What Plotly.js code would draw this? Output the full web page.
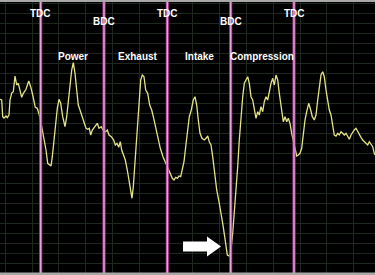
<!DOCTYPE html>
<html><head><meta charset="utf-8">
<script src="https://cdn.plot.ly/plotly-3.0.1.min.js"></script>
<style>html,body{margin:0;padding:0;background:#000;}#c{width:375px;height:275px;}</style>
</head><body><div id="c"></div>
<script>
// time (ms) and signal values
const timeMs = [0.0,0.17,0.27,0.40,0.60,0.73,0.90,1.00,1.17,1.33,1.50,1.67,1.83,2.00,2.17,2.33,2.60,2.87,3.07,3.27,3.40,3.53,3.73,3.93,4.17,4.40,4.60,4.77,4.93,5.10,5.23,5.40,5.60,5.73,5.90,6.07,6.27,6.50,6.67,6.83,7.00,7.17,7.33,7.50,7.67,7.83,8.00,8.23,8.40,8.60,8.77,8.93,9.07,9.23,9.43,
9.57,9.73,9.90,10.13,10.30,10.57,10.73,10.90,11.13,11.37,11.53,11.70,11.87,12.03,12.17,12.37,12.53,12.73,12.90,13.03,13.20,13.33,13.50,13.70,13.90,14.07,14.23,14.40,14.57,14.77,14.97,15.17,15.37,15.57,15.80,16.03,16.30,16.57,16.80,17.03,17.23,17.40,17.57,17.73,17.90,18.07,18.23,18.40,18.57,
18.77,18.93,19.13,19.33,19.50,19.67,19.83,20.00,20.20,20.43,20.60,20.77,20.93,21.10,21.27,21.47,21.67,21.87,22.07,22.27,22.47,22.60,22.73,22.93,23.10,23.27,23.47,23.60,23.77,23.93,24.10,24.27,24.43,24.60,24.77,24.93,25.10,25.27,25.43,25.60,25.77,25.93,26.10,26.27,26.43,26.60,26.77,26.93,27.10,27.27,27.43,27.60,27.77,27.93,
28.17,28.33,28.50,28.67,28.83,29.00,29.17,29.33,29.50,29.67,29.83,30.00,30.17,30.33,30.50,30.67,30.87,31.07,31.23,31.43,31.60,31.77,31.93,32.10,32.27,32.43,32.60,32.77,32.93,33.10,33.27,33.43,33.60,33.77,33.93,34.10,34.27,34.43,34.60,34.77,34.93,35.10,35.27,35.43,35.60,35.77,35.93,36.10,36.27,36.43,36.60,36.77,36.93,37.10,37.27,37.43,37.50];
const signal = [175.7,175,158.3,157,159,157.3,160,175,182,183.3,199,190,191.7,185,177.7,181.7,185.7,194,188.3,180,175,167.7,166.7,160,148.3,137,125,111.7,110,109,118.3,135,155,166.7,175.7,171.7,158.3,148.3,158.3,175,191.7,205,212.3,201.7,185,170,165,158.3,151.7,146.7,145.7,146.7,140,145,147.7,
150,151.7,146.7,148.3,145,143.3,145,140,138.3,135,130,131.7,127.7,133.3,125,118.3,115,105,93.3,88.3,76.7,88.3,115,145,175,195,200,198.3,185,181.7,170,165,156.7,146.7,135,126.7,118.3,111.7,105.7,100,96.7,95,97.7,96.7,99,98.3,105,113.3,128.3,
148.3,158.3,165,175,178.3,170,155,141.7,136.7,135,136.7,139,133.3,130,118.3,101.7,85,75,65,51.7,38.3,28.3,20,19,25,41.7,65,85,108.3,135,158.3,178.3,191.7,195,198.3,191.7,178.3,175,166.7,156.7,163.3,160,168.3,163.3,173.3,178.3,175,183.3,191.7,196.7,190,200,195,181.7,
165,153.3,158.3,153.3,156.7,151.7,141.7,133.3,125,119,120,121.7,126.7,141.7,155,163.3,171.7,165,158.3,155,160,175,188.3,200,203.3,198.3,185,175,165,160,150,140,139,141.7,140,143.3,141.7,140,141.7,138.3,135.7,140,143.3,145,146.7,143.3,140,137.7,135,133.3,132.3,130,133.3,130,128.3,121.7,120];

const deadCentres = [4.07, 10.4, 16.73, 23.07, 29.4];
const deadCentreLabels = ["TDC", "BDC", "TDC", "BDC", "TDC"];
const strokeNames = ["Power", "Exhaust", "Intake", "Compression"];
const strokeCentres = [7.3, 13.8, 19.95, 26.2];
const xGrid = [0.53,3.21,5.89,8.57,11.25,13.93,16.61,19.29,21.97,24.65,27.33,30.01,32.69,35.37];
const yGrid = [2,12,22,32,42,52,62,72,82,92,102,112,122,132,142,152,162,172,182,192,202,212,222,232,242,252,262,272];
const arrowTip = [22.1, 28.5];

const font = {family: "Liberation Sans, Arial, sans-serif", size: 10, color: "#ffffff"};
const shapes = [];
deadCentres.forEach(x => {
  shapes.push({type:"line", xref:"x", yref:"paper", x0:x, x1:x, y0:0, y1:1, line:{color:"#b84aa2", width:3}});
  shapes.push({type:"line", xref:"x", yref:"paper", x0:x, x1:x, y0:0, y1:1, line:{color:"#f0b8e4", width:1}});
});
// block arrow pointing at the minimum
const ax = arrowTip[0], ay = arrowTip[1];
shapes.push({type:"path", xref:"x", yref:"y", fillcolor:"#ffffff", line:{width:0},
  path:`M ${ax-3.8},${ay+5} L ${ax-1.4},${ay+5} L ${ax-1.4},${ay+10} L ${ax},${ay} L ${ax-1.4},${ay-10} L ${ax-1.4},${ay-5} L ${ax-3.8},${ay-5} Z`});
// top & bottom frame strips
shapes.push({type:"rect", xref:"paper", yref:"paper", x0:0, x1:1, y0:0.993, y1:1.01, fillcolor:"#a8a8a8", line:{width:0}});
shapes.push({type:"rect", xref:"paper", yref:"paper", x0:0, x1:1, y0:-0.01, y1:0.009, fillcolor:"#a8a8a8", line:{width:0}});

const annotations = [];
deadCentres.forEach((x, i) => {
  annotations.push({x:x, y: deadCentreLabels[i] === "TDC" ? 262 : 254, xref:"x", yref:"y",
    text:"<b>"+deadCentreLabels[i]+"</b>", showarrow:false, font:font});
});
strokeNames.forEach((s, i) => {
  annotations.push({x:strokeCentres[i], y:219, xref:"x", yref:"y", text:"<b>"+s+"</b>", showarrow:false, font:font});
});

Plotly.newPlot("c", [{
  x: timeMs, y: signal, type:"scatter", mode:"lines",
  line:{color:"#e4e486", width:1.3}, hoverinfo:"skip"
}], {
  width:375, height:275, margin:{l:0,r:0,t:0,b:0},
  paper_bgcolor:"#000000", plot_bgcolor:"#000000", showlegend:false,
  xaxis:{range:[0,37.5], tickvals:xGrid, showticklabels:false, ticks:"", gridcolor:"#1f281f", gridwidth:1, zeroline:false, showline:false, fixedrange:true},
  yaxis:{range:[0,275], tickvals:yGrid, showticklabels:false, ticks:"", gridcolor:"#1f281f", gridwidth:1, zeroline:false, showline:false, fixedrange:true},
  shapes: shapes, annotations: annotations
}, {staticPlot:true, displayModeBar:false});
</script>
</body></html>
